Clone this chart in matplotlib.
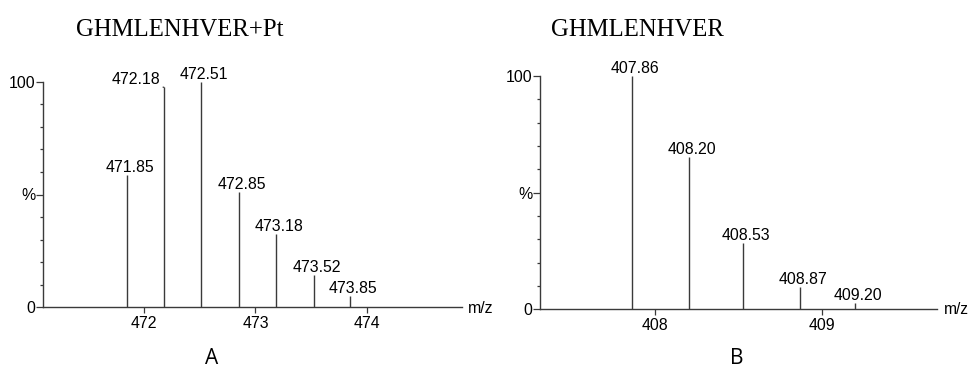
import matplotlib
matplotlib.use("Agg")
import matplotlib.pyplot as plt
from matplotlib.ticker import FixedLocator, MultipleLocator

# Isotope peak lists (m/z, relative intensity %)
mz_a = [471.85, 472.18, 472.51, 472.85, 473.18, 473.52, 473.85]
int_a = [58.8, 97.5, 100.0, 51.2, 32.5, 14.2, 5.0]
mz_b = [407.86, 408.20, 408.53, 408.87, 409.20]
int_b = [100.0, 65.4, 28.6, 9.7, 2.9]

titles = ["GHMLENHVER+Pt", "GHMLENHVER"]
panel_tags = ["A", "B"]
xticks_a = [472, 473, 474]
xticks_b = [408, 409]
ytick_vals = [0, 50, 100]
ytick_text = ["0", "%", "100"]

W, H = 968, 369
fig = plt.figure(figsize=(W / 100, H / 100), dpi=100)

LINE = "#3a3a3a"
SANS = "Liberation Sans"
SERIF = "Liberation Serif"
TAG = "Open Sans"


def px_rect(x0, y_top, x1, y_bot):
    return [x0 / W, 1 - y_bot / H, (x1 - x0) / W, (y_bot - y_top) / H]


def spectrum(rect, mz, inten, xlim, xticks, shifted=None):
    ax = fig.add_axes(rect)
    ax.vlines(mz, 0, inten, color=LINE, lw=1.0)
    ax.set_xlim(*xlim)
    ax.set_ylim(0, 100)
    for s in ("top", "right"):
        ax.spines[s].set_visible(False)
    for s in ("left", "bottom"):
        ax.spines[s].set_color(LINE)
        ax.spines[s].set_linewidth(1.0)
    ax.xaxis.set_major_locator(FixedLocator(xticks))
    ax.set_xticklabels([str(t) for t in xticks])
    ax.yaxis.set_major_locator(FixedLocator(ytick_vals))
    ax.set_yticklabels(ytick_text)
    ax.yaxis.set_minor_locator(MultipleLocator(10))
    ax.tick_params(axis="x", which="major", direction="out", length=4.5,
                   width=0.9, color=LINE, pad=2.0, labelsize=11.4)
    ax.tick_params(axis="y", which="major", direction="out", length=4.8,
                   width=0.9, color=LINE, pad=0.5, labelsize=11.4)
    ax.tick_params(axis="y", which="minor", direction="out", length=2.4,
                   width=0.9, color=LINE)
    for lab in ax.get_xticklabels() + ax.get_yticklabels():
        lab.set_fontfamily(SANS)
    for x, y in zip(mz, inten):
        label = f"{x:.2f}"
        if shifted is not None and x == shifted:
            ax.annotate(label, xy=(x, y), xytext=(-28, 3),
                        textcoords="offset pixels", ha="center",
                        va="baseline", fontsize=11.4, family=SANS,
                        annotation_clip=False,
                        arrowprops=dict(arrowstyle="-", color=LINE, lw=0.9,
                                        shrinkA=0, shrinkB=0,
                                        relpos=(1.0, 0.05)))
        else:
            ax.annotate(label, xy=(x, y), xytext=(3, 3),
                        textcoords="offset pixels", ha="center",
                        va="baseline", fontsize=11.4, family=SANS,
                        annotation_clip=False)
    return ax


ax_a = spectrum(px_rect(42.7, 81.7, 461.7, 307.3), mz_a, int_a,
                (471.093, 474.848), xticks_a, shifted=472.18)
ax_b = spectrum(px_rect(540.0, 76.0, 937.3, 309.3), mz_b, int_b,
                (407.307, 409.696), xticks_b)

# axis unit labels
fig.text(468 / W, 1 - 308.7 / H, "m/z", ha="left", va="center",
         fontsize=11.4, family=SANS)
fig.text(944 / W, 1 - 310 / H, "m/z", ha="left", va="center",
         fontsize=11.2, family=SANS)

# peptide titles
fig.text(76 / W, 1 - 36 / H, titles[0], ha="left", va="baseline",
         fontsize=17.8, family=SERIF)
fig.text(550.7 / W, 1 - 36 / H, titles[1], ha="left", va="baseline",
         fontsize=17.8, family=SERIF)

# panel tags
fig.text(212 / W, 1 - 363.5 / H, panel_tags[0], ha="center", va="baseline",
         fontsize=15, family=TAG)
fig.text(737 / W, 1 - 363.5 / H, panel_tags[1], ha="center", va="baseline",
         fontsize=15, family=TAG)

fig.savefig("out.png", dpi=100)
